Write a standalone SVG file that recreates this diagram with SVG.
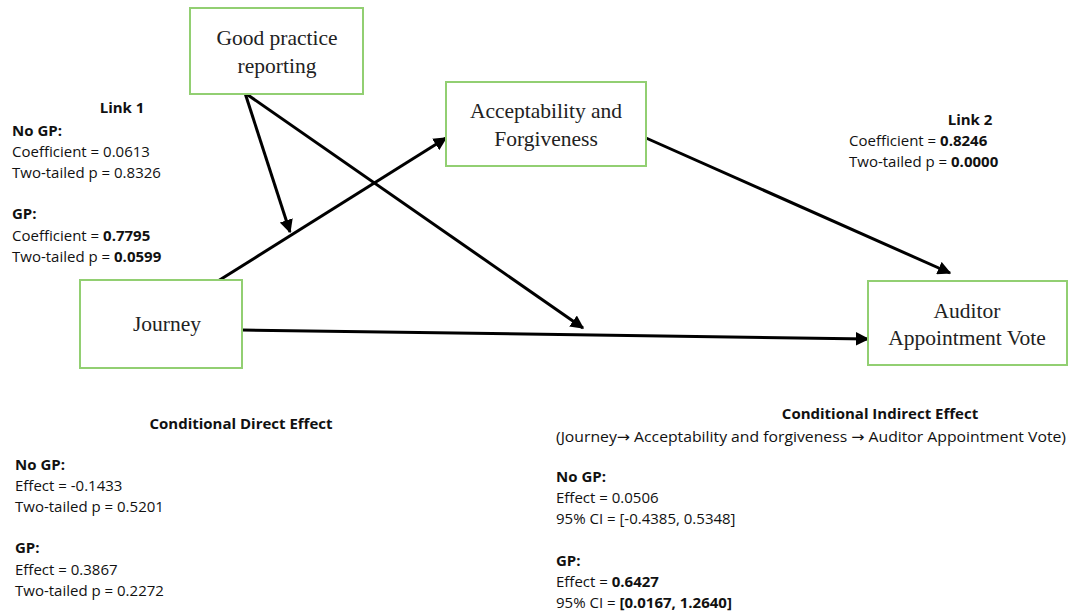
<svg xmlns="http://www.w3.org/2000/svg" width="1069" height="613" viewBox="0 0 1069 613">
<defs>
<style>
.box{fill:#fff;stroke:#92CF72;stroke-width:2}
.nt{font-family:"Liberation Serif",serif;font-size:21.5px;fill:#222;text-anchor:middle}
.t{font-family:"Open Sans","Liberation Sans",sans-serif;font-size:15px;fill:#111}
.b{font-weight:bold}
.c{text-anchor:middle}
.ar{font-family:"DejaVu Sans",sans-serif}
.ln{stroke:#000;stroke-width:3;fill:none}
</style>
<marker id="ah" viewBox="0 0 10 10" refX="9" refY="5" markerWidth="4.5" markerHeight="4.5" orient="auto" markerUnits="strokeWidth">
<path d="M0,0 L10,5 L0,10 Z" fill="#000"/>
</marker>
</defs>
<rect width="1069" height="613" fill="#fff"/>
<g id="connectors">
<line class="ln" x1="245" y1="93" x2="290" y2="232" marker-end="url(#ah)"/>
<line class="ln" x1="245" y1="93" x2="583" y2="328" marker-end="url(#ah)"/>
<line class="ln" x1="218" y1="281" x2="446" y2="138" marker-end="url(#ah)"/>
<line class="ln" x1="646" y1="138" x2="950" y2="273" marker-end="url(#ah)"/>
<line class="ln" x1="242" y1="330" x2="868" y2="339" marker-end="url(#ah)"/>
</g>
<g id="gp">
<rect class="box" x="190" y="8" width="173" height="86"/>
<text class="nt" x="277" y="45">Good practice</text>
<text class="nt" x="277" y="73">reporting</text>
</g>
<g id="af">
<rect class="box" x="446" y="82" width="200" height="84"/>
<text class="nt" x="546" y="118">Acceptability  and</text>
<text class="nt" x="546" y="146">Forgiveness</text>
</g>
<g id="journey">
<rect class="box" x="80" y="280" width="162" height="88"/>
<text class="nt" x="167" y="331">Journey</text>
</g>
<g id="auditor">
<rect class="box" x="868" y="281" width="199" height="84"/>
<text class="nt" x="967" y="318">Auditor</text>
<text class="nt" x="967" y="345">Appointment  Vote</text>
</g>
<g id="link1">
<text class="t b c" x="122" y="113">Link 1</text>
<text class="t b" x="12" y="136">No GP:</text>
<text class="t" x="12" y="157">Coefficient = 0.0613</text>
<text class="t" x="12" y="178">Two-tailed p = 0.8326</text>
<text class="t b" x="12" y="219">GP:</text>
<text class="t" x="12" y="241">Coefficient = <tspan class="b">0.7795</tspan></text>
<text class="t" x="12" y="262">Two-tailed p = <tspan class="b">0.0599</tspan></text>
</g>
<g id="link2">
<text class="t b c" x="970" y="125">Link 2</text>
<text class="t" x="849" y="146">Coefficient = <tspan class="b">0.8246</tspan></text>
<text class="t" x="849" y="167">Two-tailed p = <tspan class="b">0.0000</tspan></text>
</g>
<g id="direct">
<text class="t b c" x="241" y="429">Conditional  Direct Effect</text>
<text class="t b" x="15" y="470">No GP:</text>
<text class="t" x="15" y="491">Effect = -0.1433</text>
<text class="t" x="15" y="512">Two-tailed p = 0.5201</text>
<text class="t b" x="15" y="553">GP:</text>
<text class="t" x="15" y="575">Effect = 0.3867</text>
<text class="t" x="15" y="596">Two-tailed p = 0.2272</text>
</g>
<g id="indirect">
<text class="t b c" x="880" y="419">Conditional  Indirect Effect</text>
<text class="t" x="556" y="442" textLength="510" lengthAdjust="spacingAndGlyphs">(Journey<tspan class="ar">→</tspan>  Acceptability and forgiveness <tspan class="ar">→</tspan> Auditor Appointment Vote)</text>
<text class="t b" x="556" y="482">No GP:</text>
<text class="t" x="556" y="503">Effect = 0.0506</text>
<text class="t" x="556" y="524">95% CI = [-0.4385, 0.5348]</text>
<text class="t b" x="556" y="566">GP:</text>
<text class="t" x="556" y="587">Effect = <tspan class="b">0.6427</tspan></text>
<text class="t" x="556" y="608">95% CI = <tspan class="b">[0.0167, 1.2640]</tspan></text>
</g>
</svg>
